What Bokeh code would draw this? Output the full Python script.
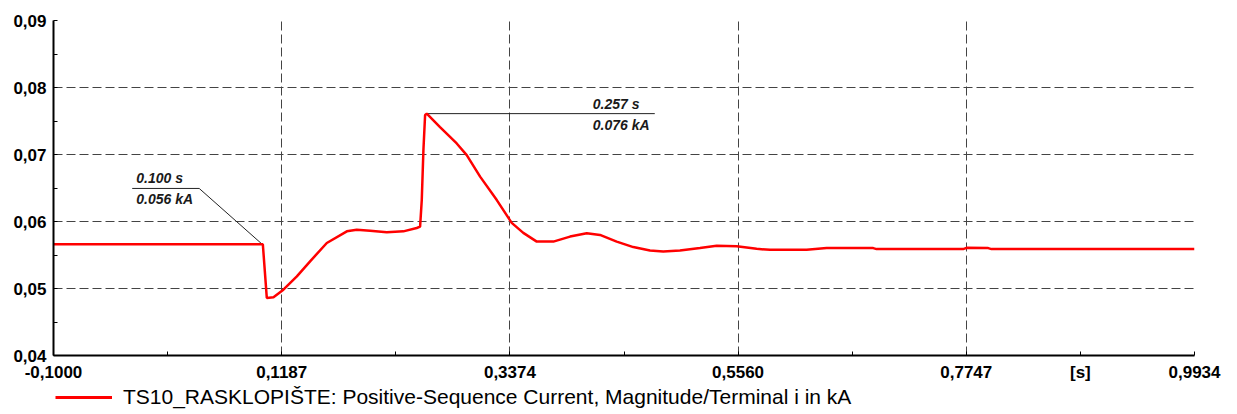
from bokeh.plotting import figure
from bokeh.layouts import column
from bokeh.models import (Range1d, FixedTicker, CustomJSTickFormatter, Label,
                          Legend, LegendItem)
from bokeh.embed import file_html
from bokeh.resources import INLINE

# ---- data ----
t = [-0.1, 0.1006, 0.1044, 0.1108, 0.1203, 0.1332, 0.1459, 0.1619, 0.1811,
     0.1906, 0.2034, 0.2194, 0.2353, 0.2481, 0.2513, 0.2529, 0.2545, 0.2561,
     0.2577, 0.2704, 0.2864, 0.2960, 0.3088, 0.3248, 0.3391, 0.3502, 0.3631,
     0.3790, 0.3950, 0.4110, 0.4237, 0.4397, 0.4556, 0.4716, 0.4843, 0.5003,
     0.5195, 0.5355, 0.5547, 0.5738, 0.5866, 0.6217, 0.6409, 0.6855, 0.6888,
     0.7717, 0.7750, 0.7957, 0.7989, 0.9934]
i_ka = [0.0566, 0.0566, 0.0486, 0.04868, 0.04982, 0.05182, 0.05406, 0.05679,
        0.05853, 0.05878, 0.05863, 0.05838, 0.05853, 0.05903, 0.05924, 0.0632,
        0.0707, 0.0759, 0.0761, 0.0741, 0.07165, 0.0699, 0.0667, 0.0632,
        0.0598, 0.0583, 0.0570, 0.0570, 0.05775, 0.05826, 0.0580, 0.0570,
        0.05618, 0.05567, 0.05552, 0.05567, 0.05603, 0.05637, 0.05632, 0.05592,
        0.05577, 0.05577, 0.05603, 0.05603, 0.05588, 0.05588, 0.05607, 0.05603,
        0.05588, 0.05588]

x_ticks = [-0.1000, 0.1187, 0.3374, 0.5560, 0.7747, 0.9934]
y_ticks = [0.04, 0.05, 0.06, 0.07, 0.08, 0.09]
legend_label = "TS10_RASKLOPIŠTE: Positive-Sequence Current, Magnitude/Terminal i in kA"
x_unit = "[s]"

ann1_point = (0.100, 0.0566)
ann1_text = ("0.100 s", "0.056 kA")
ann2_point = (0.2577, 0.0761)
ann2_text = ("0.257 s", "0.076 kA")

FONT = "Liberation Sans"
W = 1229

p = figure(width=W, height=384, output_backend="svg", toolbar_location=None,
           x_range=Range1d(x_ticks[0], x_ticks[-1]),
           y_range=Range1d(y_ticks[0], y_ticks[-1]),
           min_border_left=53, min_border_right=35, min_border_top=20,
           min_border_bottom=28)
p.outline_line_color = None
p.background_fill_color = "white"
p.border_fill_color = "white"

x_minor = [(a + b) / 2 for a, b in zip(x_ticks[:-1], x_ticks[1:])]
y_minor = [(a + b) / 2 for a, b in zip(y_ticks[:-1], y_ticks[1:])]
unit_pos = x_minor[-1]
p.xaxis.ticker = FixedTicker(ticks=x_ticks + [unit_pos], minor_ticks=x_minor[:-1])
p.yaxis.ticker = FixedTicker(ticks=y_ticks, minor_ticks=y_minor)
p.xaxis.formatter = CustomJSTickFormatter(
    args=dict(u=unit_pos, lab=x_unit),
    code="if (Math.abs(tick - u) < 1e-6) { return lab; } return tick.toFixed(4).replace('.', ',');")
p.yaxis.formatter = CustomJSTickFormatter(code="return tick.toFixed(2).replace('.', ',');")

for ax in (p.xaxis, p.yaxis):
    ax.axis_line_color = "black"
    ax.axis_line_width = 2
    ax.major_tick_out = 0
    ax.major_tick_in = 4
    ax.minor_tick_out = 0
    ax.minor_tick_in = 4
    ax.major_tick_line_color = "black"
    ax.minor_tick_line_color = "black"
    ax.major_label_text_font = FONT
    ax.major_label_text_font_style = "bold"
    ax.major_label_text_font_size = "17px"
    ax.major_label_text_color = "black"
    ax.major_label_standoff = 7

for g in (p.xgrid, p.ygrid):
    g.grid_line_color = "#444444"
    g.grid_line_width = 1
    g.grid_line_dash = "9 4"
p.xgrid.ticker = FixedTicker(ticks=x_ticks)
p.ygrid.ticker = FixedTicker(ticks=y_ticks)

# annotation leader lines (drawn before the curve)
px_per_x = 1141 / (x_ticks[-1] - x_ticks[0])
px_per_y = 336 / (y_ticks[-1] - y_ticks[0])
a1y = ann1_point[1] + 56 / px_per_y
a1x0 = ann1_point[0] - 130 / px_per_x
a1x1 = ann1_point[0] - 63 / px_per_x
p.line([a1x0, a1x1, ann1_point[0]], [a1y, a1y, ann1_point[1]],
       line_color="#222222", line_width=1)
a2x1 = ann2_point[0] + 228 / px_per_x
p.line([ann2_point[0], a2x1], [ann2_point[1], ann2_point[1]],
       line_color="#222222", line_width=1)

p.line(t, i_ka, line_color="#ff0000", line_width=2.5)

def add_ann(x, y, top, bottom):
    p.add_layout(Label(x=x, y=y, text=top, y_offset=2, text_baseline="bottom",
                       text_font=FONT, text_font_style="bold italic",
                       text_font_size="14px", text_color="#1a1a1a"))
    p.add_layout(Label(x=x, y=y, text=bottom, y_offset=-3, text_baseline="top",
                       text_font=FONT, text_font_style="bold italic",
                       text_font_size="14px", text_color="#1a1a1a"))

add_ann(a1x0 + 4 / px_per_x, a1y, *ann1_text)
add_ann(ann2_point[0] + 166 / px_per_x, ann2_point[1], *ann2_text)

# legend strip below the chart (the series is drawn off-range, only its
# legend entry is visible)
lg = figure(width=W, height=26, output_backend="svg", toolbar_location=None,
            x_axis_location=None, y_axis_location=None,
            x_range=Range1d(x_ticks[0], x_ticks[-1]), y_range=Range1d(1, 2),
            min_border_left=0, min_border_right=0, min_border_top=0,
            min_border_bottom=0)
lg.outline_line_color = None
lg.xgrid.visible = False
lg.ygrid.visible = False
r = lg.line(t, i_ka, line_color="#ff0000", line_width=3)
legend = Legend(items=[LegendItem(label=legend_label, renderers=[r])],
                location=(2, 1), margin=0, padding=0, spacing=0,
                glyph_width=57, glyph_height=20, label_height=20,
                label_standoff=11, label_text_font=FONT,
                label_text_font_size="21px", label_text_color="black",
                background_fill_alpha=0, border_line_color=None)
lg.add_layout(legend)

open("out.html", "w").write(file_html(column(p, lg, spacing=0), INLINE))
